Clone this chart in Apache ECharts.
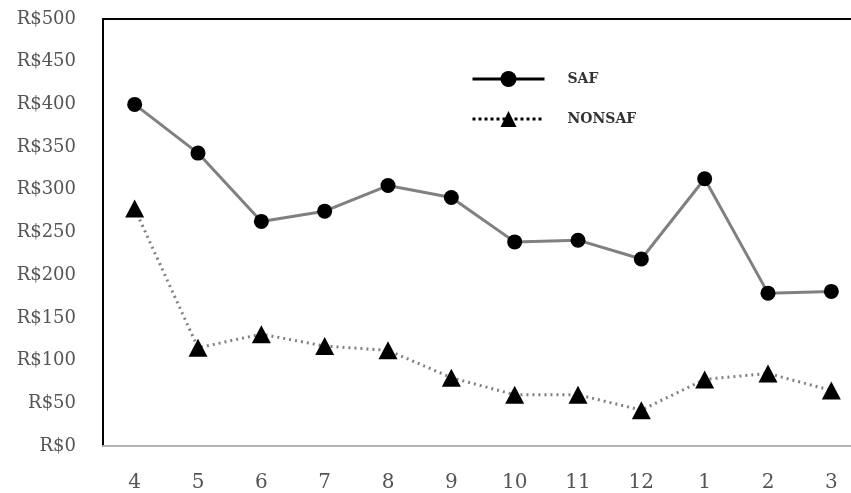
<!DOCTYPE html>
<html>
<head>
<meta charset="utf-8">
<script src="https://cdn.jsdelivr.net/npm/echarts@6/dist/echarts.min.js"></script>
<style>
  html, body { margin: 0; padding: 0; background: #fff; }
  #chart { width: 851px; height: 493px; }
</style>
</head>
<body>
<div id="chart"></div>
<script>
// Monthly values (April through March)
const months = ['4', '5', '6', '7', '8', '9', '10', '11', '12', '1', '2', '3'];
const safValues = [400, 343, 263, 275, 305, 291, 239, 241, 219, 313, 179, 181];
const nonsafValues = [278, 115, 131, 117, 112, 80, 60, 60, 42, 78, 85, 65];
const seriesNames = ['SAF', 'NONSAF'];

const fontFamily = '"DejaVu Serif", "Liberation Serif", serif';

const chart = echarts.init(document.getElementById('chart'), null, { renderer: 'canvas' });

// The plot area runs past the right edge of the canvas
chart.setOption({
  animation: false,
  backgroundColor: '#ffffff',
  grid: { left: 103, top: 19, width: 760, height: 427, containLabel: false, outerBoundsMode: 'none' },
  legend: {
    left: 466,
    top: 66,
    orient: 'vertical',
    itemWidth: 72,
    itemHeight: 20,
    itemGap: 24,
    textStyle: { fontFamily: fontFamily, fontSize: 14, fontWeight: 'bold', color: '#333', padding: [0, 0, 0, 18] },
    data: [
      { name: seriesNames[0], itemStyle: { color: '#000' }, lineStyle: { color: '#000', width: 3 } },
      { name: seriesNames[1], itemStyle: { color: '#000' }, lineStyle: { color: '#000', width: 3, type: 'dotted' } }
    ]
  },
  xAxis: [
    {
      type: 'category',
      data: months,
      boundaryGap: true,
      axisLine: { show: true, lineStyle: { color: '#b3b3b3', width: 2 } },
      axisTick: { show: false },
      axisLabel: { fontFamily: fontFamily, fontSize: 20, color: '#555', margin: 27 },
      splitLine: { show: false }
    },
    {
      type: 'category',
      data: months,
      position: 'top',
      axisLine: { show: true, lineStyle: { color: '#000', width: 2 } },
      axisTick: { show: false },
      axisLabel: { show: false },
      splitLine: { show: false }
    }
  ],
  yAxis: {
    type: 'value',
    min: 0,
    max: 500,
    interval: 50,
    axisLine: { show: true, lineStyle: { color: '#000', width: 2 } },
    axisTick: { show: false },
    splitLine: { show: false },
    axisLabel: {
      fontFamily: fontFamily,
      fontSize: 18,
      color: '#555',
      margin: 27,
      formatter: v => 'R$' + v
    }
  },
  series: [
    {
      name: seriesNames[0],
      type: 'line',
      data: safValues,
      symbol: 'circle',
      symbolSize: 15,
      itemStyle: { color: '#000' },
      lineStyle: { color: '#808080', width: 3 },
      z: 3
    },
    {
      name: seriesNames[1],
      type: 'line',
      data: nonsafValues,
      symbol: 'triangle',
      symbolSize: [19, 18],
      itemStyle: { color: '#000' },
      lineStyle: { color: '#808080', width: 3, type: [2, 4] },
      z: 3
    }
  ]
});
</script>
</body>
</html>
